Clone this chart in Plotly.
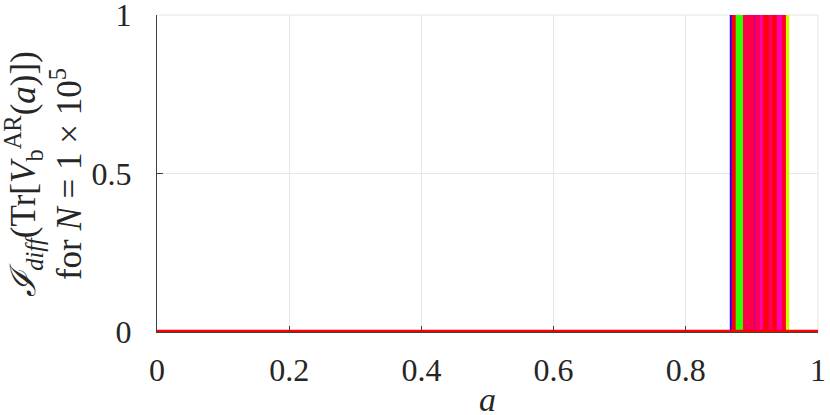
import plotly.graph_objects as go

# indicator data: each series is 1 on [a_on, a_off], 0 elsewhere on [a_min, a_max]
a_min = 0.0
a_max = 1.0

env_on = 0.871
env_off = 0.951
env_color = '#ff0040'

a_on = [0.868, 0.871, 0.877, 0.888, 0.905, 0.906, 0.914, 0.918, 0.927, 0.933, 0.939, 0.947, 0.953]
a_off = [0.871, 0.876, 0.885, 0.905, 0.906, 0.914, 0.918, 0.927, 0.933, 0.939, 0.947, 0.953, 0.955]
colors = ['#3000ff', '#ff0000', '#30ff00', '#ff0048', '#8000ff', '#ff0050', '#ff00c0',
          '#ff0010', '#ff0060', '#ff0000', '#ff00b0', '#ff0020', '#c8ff00']

x_ticks = [0, 0.2, 0.4, 0.6, 0.8, 1]
x_ticktext = ['0', '0.2', '0.4', '0.6', '0.8', '1']
y_ticks = [0, 0.5, 1]
y_ticktext = ['0', '0.5', '1']

font_name = 'Liberation Serif'


def indicator(lo, hi):
    return [a_min, lo, lo, hi, hi, a_max], [0, 0, 1, 1, 0, 0]


fig = go.Figure()

ex, ey = indicator(env_on, env_off)
fig.add_trace(go.Scatter(x=ex, y=ey, mode='lines', line=dict(color=env_color, width=3),
                         cliponaxis=False, showlegend=False))

for lo, hi, c in zip(a_on, a_off, colors):
    sx, sy = indicator(lo, hi)
    fig.add_trace(go.Scatter(x=sx, y=sy, mode='lines', line=dict(color=c, width=2),
                             fill='tozeroy', fillcolor=c, cliponaxis=False, showlegend=False))

# last series sits on zero everywhere
fig.add_trace(go.Scatter(x=[a_min, a_max], y=[0, 0], mode='lines',
                         line=dict(color='#ff0000', width=4.5), cliponaxis=False, showlegend=False))

fig.update_layout(
    width=830, height=415,
    margin=dict(l=157, r=12, t=15, b=83),
    plot_bgcolor='white', paper_bgcolor='white',
    font=dict(family=font_name, size=32, color='#262626'),
    xaxis=dict(range=[a_min, a_max], tickvals=x_ticks, ticktext=x_ticktext,
               showgrid=True, gridcolor='#e6e6e6', gridwidth=1, zeroline=False,
               showline=True, linecolor='#404040', linewidth=1, mirror=False,
               ticks='inside', ticklen=6, tickcolor='#404040', ticklabelstandoff=10,
               automargin=False, ticklabeloverflow='allow'),
    yaxis=dict(range=[0, 1], tickvals=y_ticks, ticktext=y_ticktext,
               showgrid=True, gridcolor='#e6e6e6', gridwidth=1, zeroline=False,
               showline=True, linecolor='#404040', linewidth=1, mirror=False,
               ticks='inside', ticklen=6, tickcolor='#404040', ticklabelstandoff=18,
               automargin=False, ticklabeloverflow='allow'),
)

# thin light box on the top and right sides
fig.add_shape(type='line', xref='paper', yref='paper', x0=0, x1=1, y0=1, y1=1,
              line=dict(color='#e6e6e6', width=1), layer='below')
fig.add_shape(type='line', xref='paper', yref='paper', x0=1, x1=1, y0=0, y1=1,
              line=dict(color='#e6e6e6', width=1), layer='below')

fig.add_annotation(text='<i>a</i>', xref='paper', yref='paper', x=0.5, y=-0.214,
                   yanchor='middle', showarrow=False, font=dict(size=34))
fig.add_annotation(
    text='<i>ℐ</i><sub><i>diff</i></sub>(Tr[<i>V</i><sub>b</sub><sup>AR</sup>(<i>a</i>)])'
         '<br>for <i>N</i> = 1 × 10<sup>5</sup>',
    xref='paper', yref='paper', x=-0.172, y=0.5, xanchor='center', yanchor='middle',
    textangle=-90, showarrow=False, font=dict(size=35))

# drop the browser's default body margin so the figure fills the window
fig.write_html('out.html', config={'displayModeBar': False},
               post_script="document.body.style.margin='0';")
